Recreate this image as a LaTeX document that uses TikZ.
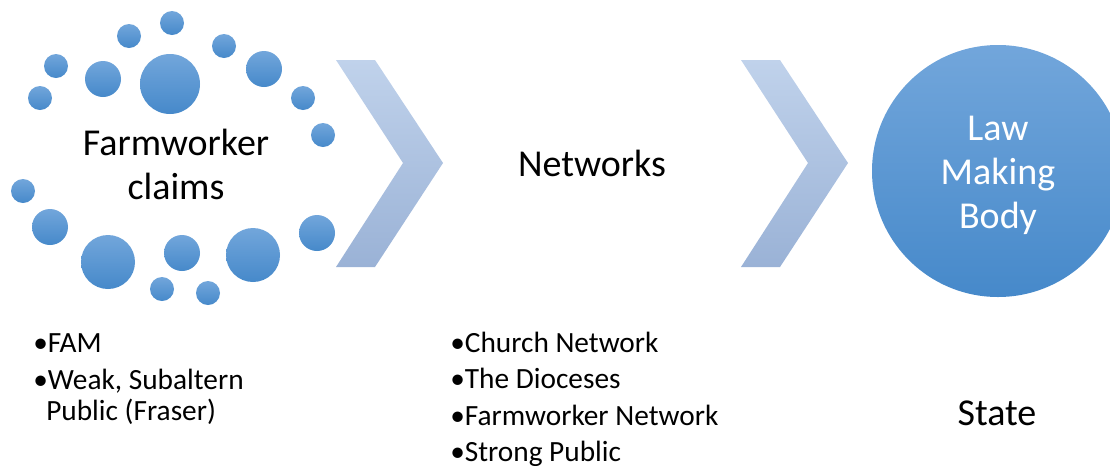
\documentclass[tikz,border=0pt]{standalone}
\usepackage{fontspec}
\setmainfont{Carlito}
\usetikzlibrary{positioning}

\definecolor{dotlight}{HTML}{72A6DB}
\definecolor{dotdark}{HTML}{4689CA}
\definecolor{chevlight}{HTML}{C0D2EB}
\definecolor{chevdark}{HTML}{9AB2D6}

\begin{document}
\begin{tikzpicture}[x=0.75pt, y=-0.75pt,
  dot/.style={top color=dotlight, bottom color=dotdark, draw=none},
  chevron/.style={top color=chevlight, bottom color=chevdark, draw=none},
  big/.style={font=\fontsize{28.5}{33}\selectfont, align=center, inner sep=0pt},
  item/.style={font=\fontsize{22}{26}\selectfont, anchor=base west, inner sep=0pt}]
\useasboundingbox (0,0) rectangle (1110,465);

% ring of dots round the claims
\foreach \cx/\cy/\r in {172/23/12, 129/36/12, 224/46/12, 56/66/12, 103/79/18,
    170/84/30, 264/69/18, 40/98/12, 303/98/12, 323/135/12, 23/191/12,
    50/227/18, 108/262/27, 182/253/18, 253/255/27, 317/233/18,
    162/289/12, 208/293/12}
  \shade[dot] (\cx,\cy) circle ({\r*0.75pt});
\node [big] (claims) at (176,164) {Farmworker\\claims};

% chevrons
\shade [chevron] (336,60) -- (375,60) -- (443,163) -- (375,267) -- (336,267) -- (403,163) -- cycle;
\node [big] (net) at (592,163) {Networks};
\shade [chevron] (741,60) -- (780,60) -- (848,163) -- (780,267) -- (741,267) -- (808,163) -- cycle;

\node [circle, minimum size=189pt, top color=dotlight, bottom color=dotdark] (law) at (998,171) {};
\node [big, text=white] (lawtext) at (998,175) {Law\\Making\\Body};
\node [big] (state) at (997,413) {State};

% lists below
\node [item] (fam) at (33,352) {•FAM};
\node [item] (weak) at (33,389) {•Weak, Subaltern};
\node [item] (fraser) at (46,420) {Public (Fraser)};

\node [item] (church) at (450,352) {•Church Network};
\node [item] (dio) at (450,388) {•The Dioceses};
\node [item] (fwn) at (450,425) {•Farmworker Network};
\node [item] (strong) at (450,461) {•Strong Public};
\end{tikzpicture}
\end{document}
